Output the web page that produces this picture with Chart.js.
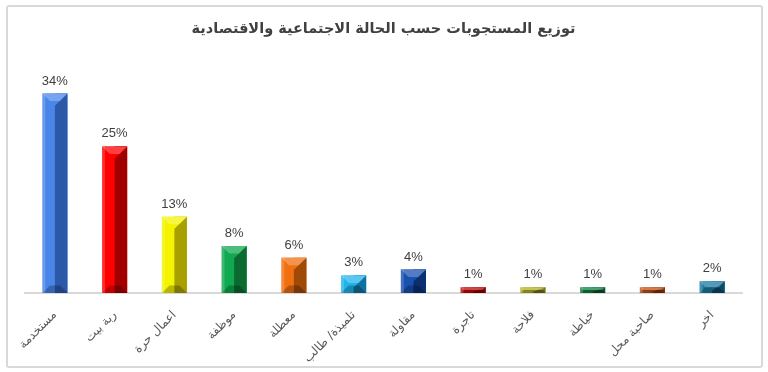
<!DOCTYPE html>
<html>
<head>
<meta charset="utf-8">
<script src="https://cdn.jsdelivr.net/npm/chart.js@4.4.0/dist/chart.umd.min.js"></script>
<style>
  body { margin: 0; background: #fff; }
  #wrap { position: relative; width: 768px; height: 372px; }
  #frame { position: absolute; left: 6px; top: 5px; width: 753px; height: 359px;
           border: 2px solid #d9d9d9; border-radius: 3px; pointer-events: none; }
</style>
</head>
<body>
<div id="wrap">
  <canvas id="myChart" width="768" height="372"></canvas>
  <div id="frame"></div>
</div>
<script>
const labels = ['مستخدمة', 'ربة بيت', 'اعمال حرة', 'موظفة', 'معطلة', 'تلميذة/ طالب', 'مقاولة', 'تاجرة', 'فلاحة', 'خياطة', 'صاحبة محل', 'اخر'];
const values = [34, 25, 13, 8, 6, 3, 4, 1, 1, 1, 1, 2];
const lightColors = ['#4a86e8', '#ff0000', '#f4f400', '#10a850', '#f07010', '#20b4ec', '#1a50b0', '#c00808', '#b0b020', '#108040', '#c05010', '#1a7aa0'];
const darkColors = ['#2c58a8', '#a00000', '#a8a000', '#0a6a30', '#a04a08', '#1070a0', '#0a3070', '#800000', '#707010', '#0a5028', '#803008', '#0a4a66'];

const ctx = document.getElementById('myChart');

// bevel look: dark right face, light top wedge, dark bottom wedge
const bevel = {
  id: 'bevel',
  afterDatasetsDraw(chart) {
    const c = chart.ctx;
    const meta = chart.getDatasetMeta(0);
    meta.data.forEach((bar, i) => {
      const w = bar.width;
      const l = bar.x - w / 2, r = bar.x + w / 2;
      const top = bar.y, base = bar.base;
      const h = base - top;
      const b = Math.min(w * 0.3, h / 2);
      c.save();
      c.fillStyle = darkColors[i];
      c.fillRect(bar.x, top, r - bar.x, h);
      // top wedge
      c.fillStyle = lightColors[i];
      c.beginPath();
      c.moveTo(l, top); c.lineTo(r, top); c.lineTo(bar.x, top + b * 1.6 < base ? top + b * 1.6 : base);
      c.closePath(); c.fill();
      c.fillStyle = 'rgba(255,255,255,0.25)';
      c.beginPath();
      c.moveTo(l, top); c.lineTo(r, top); c.lineTo(r - b, top + b); c.lineTo(l + b, top + b);
      c.closePath(); c.fill();
      // bottom wedge
      c.fillStyle = 'rgba(0,0,0,0.25)';
      c.beginPath();
      c.moveTo(l, base); c.lineTo(r, base); c.lineTo(r - b, base - b); c.lineTo(l + b, base - b);
      c.closePath(); c.fill();
      // light left edge
      c.fillStyle = 'rgba(255,255,255,0.18)';
      c.fillRect(l, top, Math.min(3, w / 6), h);
      c.restore();
    });
  }
};

const valueLabels = {
  id: 'valueLabels',
  afterDatasetsDraw(chart) {
    const c = chart.ctx;
    const meta = chart.getDatasetMeta(0);
    c.save();
    c.font = '13px "Liberation Sans", Arial, sans-serif';
    c.fillStyle = '#404040';
    c.textAlign = 'center';
    c.textBaseline = 'bottom';
    meta.data.forEach((bar, i) => {
      c.fillText(values[i] + '%', bar.x, bar.y - 6);
    });
    c.restore();
  }
};

new Chart(ctx, {
  type: 'bar',
  data: {
    labels: labels,
    datasets: [{
      data: values,
      backgroundColor: lightColors,
      borderWidth: 0,
      barPercentage: 0.84,
      categoryPercentage: 0.5
    }]
  },
  options: {
    responsive: false,
    animation: false,
    layout: { padding: { left: 25, right: 26, top: 0, bottom: 0 } },
    plugins: {
      legend: { display: false },
      tooltip: { enabled: false },
      title: {
        display: true,
        text: 'توزيع المستجوبات حسب الحالة الاجتماعية والاقتصادية',
        color: '#404040',
        font: { size: 14.5, weight: 'bold', family: '"DejaVu Sans", sans-serif' },
        padding: { top: 21, bottom: 20 }
      }
    },
    scales: {
      x: {
        grid: { display: false },
        border: { display: true, color: '#d9d9d9', width: 2 },
        ticks: {
          color: '#595959',
          padding: 7,
          font: { size: 12, family: '"DejaVu Sans", sans-serif' },
          minRotation: 45,
          maxRotation: 45,
          autoSkip: false
        },
        afterFit: (s) => { s.height = 79; }
      },
      y: {
        display: false,
        beginAtZero: true,
        max: 40
      }
    }
  },
  plugins: [bevel, valueLabels]
});
</script>
</body>
</html>
